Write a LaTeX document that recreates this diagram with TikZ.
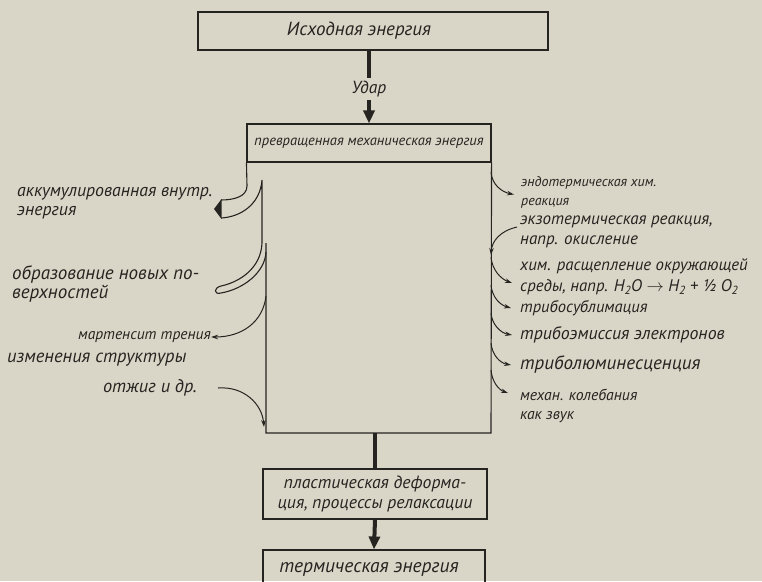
\documentclass[tikz,border=0pt]{standalone}
\usepackage{fontspec}
\setmainfont{PT Sans}
\usetikzlibrary{positioning,arrows.meta}

\definecolor{paper}{RGB}{218,214,199}
\definecolor{ink}{RGB}{38,36,33}

\newcommand{\hand}[2][19.5]{\fontsize{#2}{#1}\selectfont\itshape}

\begin{document}
\begin{tikzpicture}[x=1pt, y=-1pt,
    box/.style={draw=ink, line width=1.1pt, inner sep=0pt, align=center, text=ink},
    lbl/.style={font=\hand{17}, text=ink, align=left, inner sep=0pt},
    flow/.style={draw=ink, line width=4pt},
    flowhead/.style={flow, -{Triangle[length=13pt,width=11pt]}},
    branch/.style={draw=ink, line width=1pt, -{Stealth[length=7pt,width=4.5pt]}},
    band/.style={draw=ink, line width=1.1pt}
]
\fill[paper] (0,0) rectangle (762,581);
\useasboundingbox (0,0) rectangle (762,581);

% Source and header
\node[box, font=\hand{19}, minimum width=350pt, minimum height=38pt] (src) at (373,31) {Исходная энергия\hspace*{28pt}};
\node[box, font=\hand{14.5}, minimum width=244pt, minimum height=38pt] (hdr) at (369,143) {превращенная механическая энергия};

% Impact arrow
\node[lbl, font=\hand{17.5}] (udar) at (369,89) {Удар};
\draw[flow] (src.south -| hdr.north) -- ([yshift=3pt]udar.north);
\draw[flowhead] ([yshift=-3pt]udar.south) -- (hdr.north);

% Body of the box
\coordinate (bodyBL) at (266,433);
\coordinate (bodyBR) at (491,433);
\draw[band] (hdr.south east) -- (bodyBR) -- (bodyBL) -- (266,243);

% Left bands
\draw[band] (hdr.south west) -- (247,186) .. controls (247,197) and (233,200) .. (221,200);
\fill[ink] (221.5,199) -- (214,209) -- (221.5,219) -- cycle;
\draw[band] (221,218) .. controls (240,217) and (260,205) .. (262,180) -- (262,243)
    .. controls (261,268) and (240,282) .. (221,286)
    .. controls (213,288) and (214,295) .. (221,293)
    .. controls (244,289) and (265,272) .. (266,252);

% Left labels
\node[lbl, font=\hand{17.8}, anchor=west] (accum) at (17,203) {аккумулированная внутр.\\энергия};
\node[lbl, font=\hand{19}, anchor=west] (surf) at (12,284) {образование новых по-\\верхностей};
\node[lbl, font=\hand{15.5}, anchor=east] (mart) at (211,337) {мартенсит трения};
\node[lbl, font=\hand{18.5}, anchor=west] (struct) at (7,360) {изменения структуры};
\node[lbl, font=\hand{18.3}, anchor=east] (otzh) at (197,388) {отжиг и др.};

\draw[branch] (266,296) .. controls (263,322) and (242,337) .. (mart.east);
\draw[branch] ([xshift=21pt]otzh.east) .. controls (244,386) and (262,404) .. (264,427);

% Right labels
\node[lbl, font=\hand{14}, anchor=west] (endo) at (521,192.5) {эндотермическая хим.\\реакция};
\node[lbl, font=\hand{17}, anchor=west] (exo) at (520,232) {экзотермическая реакция,\\напр. окисление};
\node[lbl, font={\hand[21]{16.8}}, anchor=west] (split) at (520,277) {хим. расщепление окружающей\\среды, напр. H\textsubscript{2}O $\rightarrow$ H\textsubscript{2} + ½ O\textsubscript{2}};
\node[lbl, font=\hand{16.5}, anchor=west] (subl) at (520,308) {трибосублимация};
\node[lbl, font=\hand{17.8}, anchor=west] (emis) at (520,335) {трибоэмиссия электронов};
\node[lbl, font=\hand{19}, anchor=west] (lumi) at (520,365) {триболюминесценция};
\node[lbl, font=\hand{15.7}, anchor=west] (vibr) at (520,406) {механ. колебания\\как звук};

\draw[branch] (491,172) .. controls (492,185) and (502,192) .. ([xshift=-7pt,yshift=-2pt]endo.west);
\draw[branch] ([xshift=-3pt,yshift=5pt]exo.west) .. controls (500,231) and (492,241) .. (491,255);
\draw[branch] (491,257) .. controls (492,270) and (501,279) .. ([xshift=-8pt,yshift=-6pt]split.west);
\draw[branch] (491,285) .. controls (492,297) and (500,305) .. ([xshift=-9pt]subl.west);
\draw[branch] (491,313) .. controls (492,325) and (501,333) .. ([xshift=-8pt]emis.west);
\draw[branch] (491,343) .. controls (492,355) and (500,363) .. ([xshift=-9pt]lumi.west);
\draw[branch] (491,370) .. controls (492,382) and (499,390) .. ([xshift=-12pt,yshift=13pt]vibr.west);

% Lower chain
\node[box, font=\hand{17.7}, minimum width=224pt, minimum height=50pt] (plast) at (375,494) {пластическая деформа-\\ция, процессы релаксации};
\node[box, font=\hand{19.5}, minimum width=222pt, minimum height=38pt] (therm) at (374,569) {термическая энергия\hspace*{10pt}};
\draw[flow] (plast.north |- bodyBL) -- (plast.north);
\draw[flowhead] (plast.south) -- (therm.north);
\end{tikzpicture}
\end{document}
